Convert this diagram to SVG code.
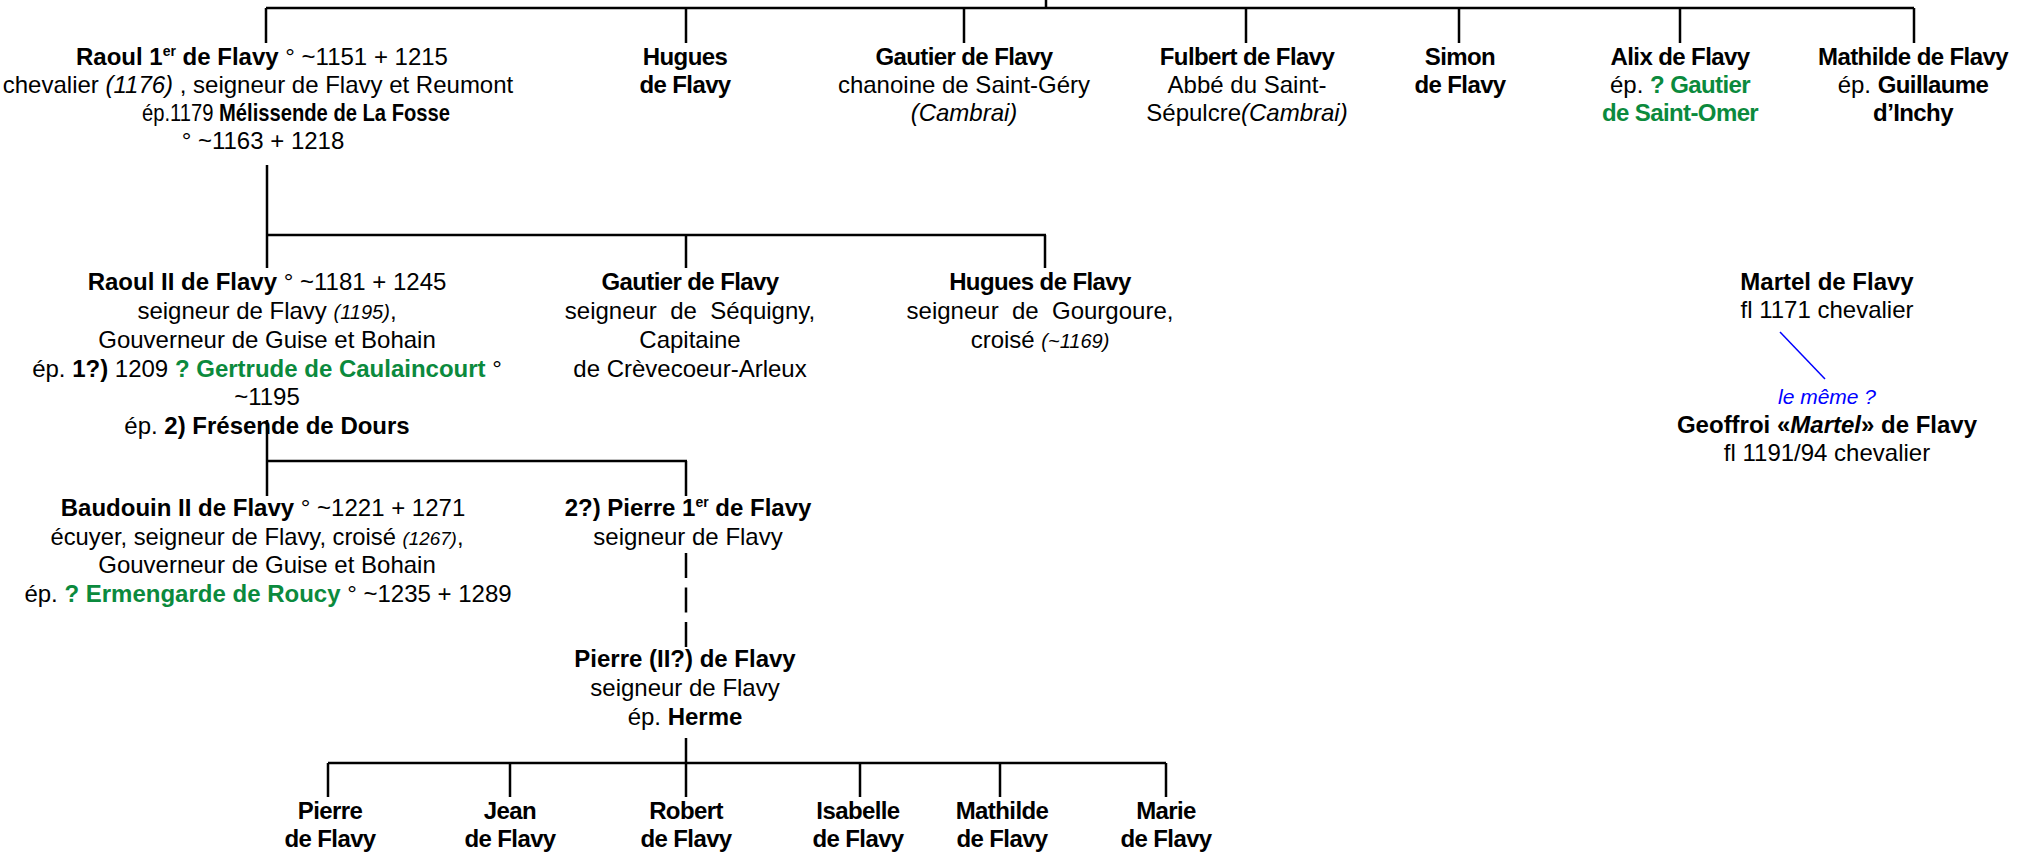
<svg xmlns="http://www.w3.org/2000/svg" width="2025" height="852" viewBox="0 0 2025 852">
<style>
text{font-family:"Liberation Sans",Arial,sans-serif;font-size:24px;fill:#000;text-anchor:middle}
.b{font-weight:bold}
.c{letter-spacing:-0.6px}
.i{font-style:italic}
.s{font-size:20px}
.g{fill:#0b8a3d;font-weight:bold}
.bl{fill:#0000ff;font-style:italic;font-size:21px}
.ln{stroke:#000;stroke-width:2.5;fill:none}
.dash{stroke:#000;stroke-width:2.5;fill:none;stroke-dasharray:25 9.5}
.blu{stroke:#0000ff;stroke-width:1.5;fill:none}
</style>
<rect width="2025" height="852" fill="#fff"/>
<g id="connectors">
<path class="ln" d="M1046 0V8M266 8H1914M266 8V43M686 8V43M964 8V43M1246 8V43M1459 8V43M1680 8V43M1914 8V43"/>
<path class="ln" d="M267 165V235M266 235H1046M267 235V268M686 235V268M1045 235V268"/>
<path class="ln" d="M267 420V461M266 461H687M267 461V496M686 461V496"/>
<path class="dash" d="M686 553V647"/>
<path class="ln" d="M686 738V797M328 763H1166M328 763V797M510 763V797M860 763V797M1000 763V797M1166 763V797"/>
<path class="blu" d="M1780 332L1825 379"/>
</g>
<g id="raoul1">
<text x="262" y="65"><tspan class="b">Raoul 1<tspan font-size="14" dy="-9">er</tspan><tspan dy="9"> de Flavy</tspan></tspan> ° ~1151 + 1215</text>
<text x="258" y="93">chevalier <tspan class="i">(1176)</tspan> , seigneur de Flavy et Reumont</text>
<text x="296" y="121" font-size="22" textLength="308" lengthAdjust="spacingAndGlyphs">ép.1179 <tspan class="b">Mélissende de La Fosse</tspan></text>
<text x="263" y="149">° ~1163 + 1218</text>
</g>
<g id="hugues1">
<text class="b c" x="685" y="65">Hugues</text>
<text class="b c" x="685" y="93">de Flavy</text>
</g>
<g id="gautier1">
<text class="b c" x="964" y="65">Gautier de Flavy</text>
<text x="964" y="93">chanoine de Saint-Géry</text>
<text class="i" x="964" y="121">(Cambrai)</text>
</g>
<g id="fulbert">
<text class="b c" x="1247" y="65">Fulbert de Flavy</text>
<text x="1247" y="93">Abbé du Saint-</text>
<text x="1247" y="121">Sépulcre<tspan class="i">(Cambrai)</tspan></text>
</g>
<g id="simon">
<text class="b c" x="1460" y="65">Simon</text>
<text class="b c" x="1460" y="93">de Flavy</text>
</g>
<g id="alix">
<text class="b c" x="1680" y="65">Alix de Flavy</text>
<text x="1680" y="93">ép. <tspan class="g c">? Gautier</tspan></text>
<text class="g c" x="1680" y="121">de Saint-Omer</text>
</g>
<g id="mathilde1">
<text class="b c" x="1913" y="65">Mathilde de Flavy</text>
<text x="1913" y="93">ép. <tspan class="b c">Guillaume</tspan></text>
<text class="b c" x="1913" y="121">d’Inchy</text>
</g>
<g id="raoul2">
<text x="267" y="290"><tspan class="b">Raoul II de Flavy</tspan> ° ~1181 + 1245</text>
<text x="267" y="319">seigneur de Flavy <tspan class="i s">(1195)</tspan>,</text>
<text x="267" y="348">Gouverneur de Guise et Bohain</text>
<text x="267" y="377">ép. <tspan class="b">1?)</tspan> 1209 <tspan class="g">? Gertrude de Caulaincourt</tspan> °</text>
<text x="267" y="405">~1195</text>
<text x="267" y="434">ép. <tspan class="b">2) Frésende de Dours</tspan></text>
</g>
<g id="gautier2">
<text class="b c" x="690" y="290">Gautier de Flavy</text>
<text x="690" y="319">seigneur&#160; de&#160; Séquigny,</text>
<text x="690" y="348">Capitaine</text>
<text x="690" y="377">de Crèvecoeur-Arleux</text>
</g>
<g id="hugues2">
<text class="b c" x="1040" y="290">Hugues de Flavy</text>
<text x="1040" y="319">seigneur&#160; de&#160; Gourgoure,</text>
<text x="1040" y="348">croisé <tspan class="i s">(~1169)</tspan></text>
</g>
<g id="martel">
<text class="b" x="1827" y="290">Martel de Flavy</text>
<text x="1827" y="318">fl 1171 chevalier</text>
</g>
<g id="geoffroi">
<text class="bl" x="1827" y="404">le même ?</text>
<text class="b" x="1827" y="433">Geoffroi «<tspan class="i">Martel</tspan>» de Flavy</text>
<text x="1827" y="461">fl 1191/94 chevalier</text>
</g>
<g id="baudouin">
<text x="263" y="516"><tspan class="b">Baudouin II de Flavy</tspan> ° ~1221 + 1271</text>
<text x="257" y="545" font-size="26" textLength="413" lengthAdjust="spacingAndGlyphs">écuyer, seigneur de Flavy, croisé <tspan class="i" font-size="19">(1267)</tspan>,</text>
<text x="267" y="573">Gouverneur de Guise et Bohain</text>
<text x="268" y="602">ép. <tspan class="g">? Ermengarde de Roucy</tspan> ° ~1235 + 1289</text>
</g>
<g id="pierre1">
<text x="688" y="516"><tspan class="b">2?) Pierre 1<tspan font-size="14" dy="-9">er</tspan><tspan dy="9"> de Flavy</tspan></tspan></text>
<text x="688" y="545">seigneur de Flavy</text>
</g>
<g id="pierre2">
<text class="b" x="685" y="667">Pierre (II?) de Flavy</text>
<text x="685" y="696">seigneur de Flavy</text>
<text x="685" y="725">ép. <tspan class="b">Herme</tspan></text>
</g>
<g id="pierre3"><text class="b c" x="330" y="819">Pierre</text><text class="b c" x="330" y="847">de Flavy</text></g>
<g id="jean"><text class="b c" x="510" y="819">Jean</text><text class="b c" x="510" y="847">de Flavy</text></g>
<g id="robert"><text class="b c" x="686" y="819">Robert</text><text class="b c" x="686" y="847">de Flavy</text></g>
<g id="isabelle"><text class="b c" x="858" y="819">Isabelle</text><text class="b c" x="858" y="847">de Flavy</text></g>
<g id="mathilde2"><text class="b c" x="1002" y="819">Mathilde</text><text class="b c" x="1002" y="847">de Flavy</text></g>
<g id="marie"><text class="b c" x="1166" y="819">Marie</text><text class="b c" x="1166" y="847">de Flavy</text></g>
</svg>
